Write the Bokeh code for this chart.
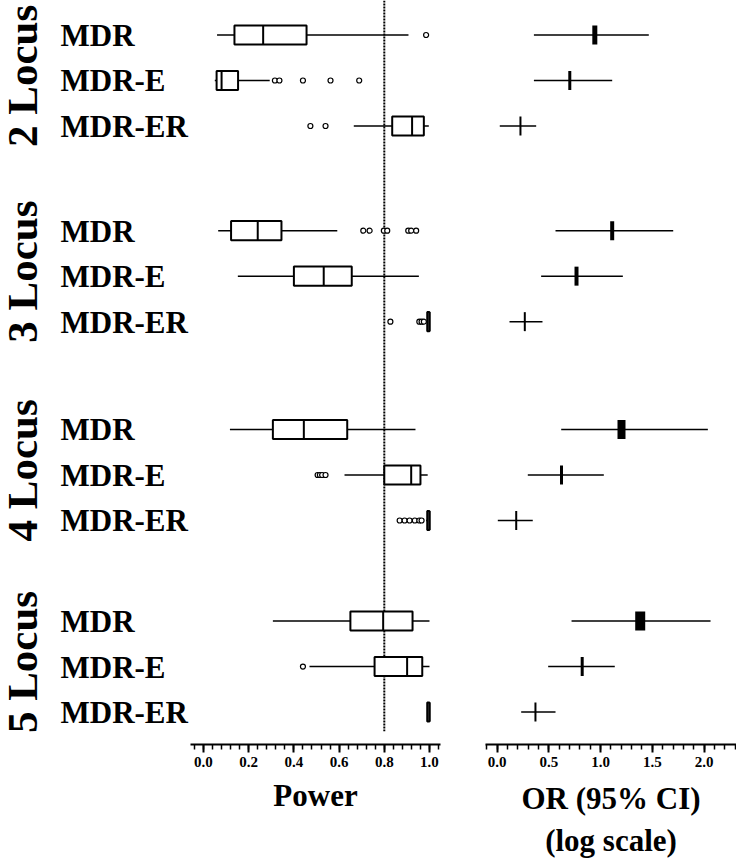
import numpy as np
from bokeh.plotting import figure
from bokeh.layouts import row
from bokeh.models import Range1d, FixedTicker, PrintfTickFormatter, ColumnDataSource
from bokeh.embed import file_html
from bokeh.resources import INLINE
from bokeh.core.properties import value

# ---------------- data ----------------
groups = ["2 Locus", "3 Locus", "4 Locus", "5 Locus"]
methods = ["MDR", "MDR-E", "MDR-ER"]

# Power box plots (one entry per group x method, in reading order)
power_lo  = [0.060, 0.050, 0.665, 0.065, 0.152, 0.985, 0.117, 0.624, 0.985, 0.307, 0.469, 0.990]
power_q1  = [0.137, 0.058, 0.835, 0.122, 0.400, 0.990, 0.307, 0.800, 0.990, 0.650, 0.757, 0.990]
power_med = [0.264, 0.080, 0.923, 0.240, 0.532, 1.000, 0.444, 0.919, 1.000, 0.795, 0.901, 1.000]
power_q3  = [0.456, 0.153, 0.975, 0.345, 0.656, 1.000, 0.636, 0.960, 1.000, 0.925, 0.968, 1.000]
power_hi  = [0.907, 0.293, 0.997, 0.592, 0.953, 1.000, 0.938, 0.992, 1.000, 1.000, 1.000, 1.000]
power_outliers = [
    [0.985],
    [0.316, 0.336, 0.440, 0.562, 0.689],
    [0.473, 0.540],
    [0.707, 0.735, 0.798, 0.813, 0.906, 0.919, 0.941],
    [],
    [0.827, 0.955, 0.965, 0.975],
    [],
    [0.505, 0.515, 0.525, 0.540],
    [0.868, 0.890, 0.912, 0.935, 0.955, 0.965],
    [],
    [0.440],
    [],
]
power_threshold = 0.8

# Odds ratios (95% CI)
or_est = [0.944, 0.702, 0.225, 1.112, 0.767, 0.267, 1.202, 0.622, 0.184, 1.383, 0.822, 0.370]
or_lo  = [0.355, 0.355, 0.025, 0.564, 0.425, 0.119, 0.619, 0.296, 0.006, 0.719, 0.493, 0.232]
or_hi  = [1.466, 1.112, 0.377, 1.702, 1.215, 0.438, 2.037, 1.031, 0.344, 2.063, 1.137, 0.564]
or_weight_px = [5, 3, 2, 4, 4, 2, 8, 3, 2, 10, 3, 2]

power_ticks = [0.0, 0.2, 0.4, 0.6, 0.8, 1.0]
or_ticks = [0.0, 0.5, 1.0, 1.5, 2.0]

# ---------------- layout ----------------
FONT = "Liberation Serif"
group_offset = [0.0, 4.30, 8.67, 12.88]
ypos = [group_offset[g] + r for g in range(len(groups)) for r in range(len(methods))]
row_names = [m for g in groups for m in methods]

H = 866
BOTTOM = 122
yr = Range1d(start=15.593, end=-0.758)

def base_fig(width, xr, min_left=0, min_right=0):
    p = figure(width=width, height=H, x_range=xr, y_range=yr,
               output_backend="svg", toolbar_location=None,
               min_border_left=min_left, min_border_right=min_right,
               min_border_top=0, min_border_bottom=BOTTOM,
               y_axis_location=None)
    p.outline_line_color = None
    p.xgrid.visible = False
    p.ygrid.visible = False
    p.background_fill_color = "white"
    p.border_fill_color = "white"
    return p

def style_xaxis(p, label, standoff):
    ax = p.xaxis[0]
    ax.axis_label = label
    ax.axis_label_text_font = FONT
    ax.axis_label_text_font_style = "bold"
    ax.axis_label_text_font_size = "31px"
    ax.axis_label_text_color = "black"
    ax.axis_label_standoff = standoff
    ax.major_label_text_font = FONT
    ax.major_label_text_font_style = "bold"
    ax.major_label_text_font_size = "15px"
    ax.major_label_text_color = "black"
    ax.major_label_standoff = 4
    ax.axis_line_width = 2
    ax.axis_line_color = "black"
    ax.major_tick_line_width = 2
    ax.major_tick_line_color = "black"
    ax.minor_tick_line_width = 1.5
    ax.minor_tick_line_color = "black"
    ax.major_tick_out = 8
    ax.major_tick_in = 0
    ax.minor_tick_out = 5
    ax.minor_tick_in = 0
    ax.formatter = PrintfTickFormatter(format="%.1f")

# ---- labels panel ----
pl = base_fig(190, Range1d(0, 190))
pl.xaxis.visible = False
pl.text(x=[60] * len(ypos), y=[y + 0.01 for y in ypos], text=row_names,
        text_font=value(FONT), text_font_style="bold", text_font_size="31px",
        text_align="left", text_baseline="alphabetic", text_color="black")
pl.text(x=[22] * len(groups), y=[o + 0.9 for o in group_offset], text=groups,
        angle=np.pi / 2, text_font=value(FONT), text_font_style="bold",
        text_font_size="43px", text_align="center", text_baseline="alphabetic",
        text_color="black")

# ---- power panel ----
pp = base_fig(295, Range1d(-0.0575, 1.0487), min_right=45)
style_xaxis(pp, "Power", 8)
pp.xaxis[0].ticker = FixedTicker(ticks=power_ticks,
                                 minor_ticks=list(np.round(np.arange(-0.04, 1.041, 0.04), 3)))

half = 0.21
src = ColumnDataSource(dict(y=ypos, lo=power_lo, q1=power_q1, med=power_med,
                            q3=power_q3, hi=power_hi,
                            top=[y - half for y in ypos], bot=[y + half for y in ypos]))
# threshold line
pp.segment(x0=[power_threshold], y0=[-0.758], x1=[power_threshold], y1=[15.3],
           line_color="black", line_width=2, line_dash="2 1")
pp.segment(x0="lo", y0="y", x1="q1", y1="y", source=src, line_color="black", line_width=1.5)
pp.segment(x0="q3", y0="y", x1="hi", y1="y", source=src, line_color="black", line_width=1.5)
pp.quad(left="q1", right="q3", top="top", bottom="bot", source=src,
        fill_color="white", line_color="black", line_width=2)
pp.segment(x0="med", y0="top", x1="med", y1="bot", source=src, line_color="black", line_width=2)
ox = [v for vals in power_outliers for v in vals]
oy = [ypos[i] for i, vals in enumerate(power_outliers) for _ in vals]
pp.scatter(x=ox, y=oy, marker="circle", size=5, fill_color="white",
           line_color="black", line_width=1.2)

# ---- OR panel ----
po = base_fig(251, Range1d(-0.113, 2.314))
style_xaxis(po, "OR (95% CI)\n(log scale)", 11)
po.xaxis[0].ticker = FixedTicker(ticks=or_ticks,
                                 minor_ticks=list(np.round(np.arange(-0.1, 2.31, 0.1), 3)))
po.segment(x0=or_lo, y0=ypos, x1=or_hi, y1=ypos, line_color="black", line_width=1.5)
po.rect(x=or_est, y=ypos, width=or_weight_px, height=19,
        width_units="screen", height_units="screen",
        fill_color="black", line_color=None)

layout = row(pl, pp, po, spacing=0)
open("out.html", "w").write(file_html(layout, INLINE))
